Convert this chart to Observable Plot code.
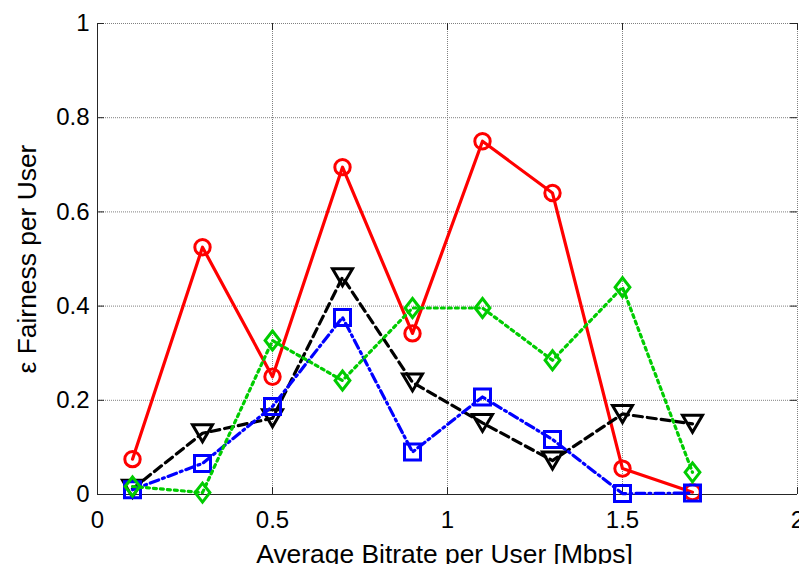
<!DOCTYPE html>
<html><head><meta charset="utf-8">
<script src="https://cdn.jsdelivr.net/npm/d3@7"></script>
<script src="https://cdn.jsdelivr.net/npm/@observablehq/plot@0.6"></script>
<style>
body{margin:0;background:#fff;}
svg{font-family:"Liberation Sans",Arial,sans-serif;}
</style>
</head><body><div id="chart"></div>
<script>
const bitrate = [0.1, 0.3, 0.5, 0.7, 0.9, 1.1, 1.3, 1.5, 1.7];
const redCircle = [0.075, 0.525, 0.25, 0.695, 0.342, 0.75, 0.64, 0.055, 0.005];
const blackTriangle = [0.012, 0.13, 0.162, 0.461, 0.238, 0.152, 0.072, 0.171, 0.15];
const blueSquare = [0.01, 0.066, 0.187, 0.376, 0.09, 0.207, 0.117, 0.002, 0.003];
const greenDiamond = [0.017, 0.004, 0.327, 0.242, 0.396, 0.396, 0.285, 0.44, 0.047];
const xTicks = [0, 0.5, 1, 1.5, 2];
const xTickLabels = ["0", "0.5", "1", "1.5", "2"];
const yTicks = [0, 0.2, 0.4, 0.6, 0.8, 1];
const yTickLabels = ["0", "0.2", "0.4", "0.6", "0.8", "1"];
const xLabel = "Average Bitrate per User [Mbps]";
const yLabel = "ε Fairness per User";

const rows = vals => bitrate.map((x, i) => ({x, y: vals[i]}));

const triDown = {draw(ctx) { ctx.moveTo(-10, -8.5); ctx.lineTo(10, -8.5); ctx.lineTo(0, 8.5); ctx.closePath(); }};
const diamond = {draw(ctx) { ctx.moveTo(0, -9.5); ctx.lineTo(7.4, 0); ctx.lineTo(0, 9.5); ctx.lineTo(-7.4, 0); ctx.closePath(); }};
const square = {draw(ctx) { ctx.rect(-8, -8, 16, 16); }};

const W = 799, H = 564, ML = 97, MR = 2, MT = 23, MB = 70;
const FW = W - ML - MR, FH = H - MT - MB;
const axisColor = "#262626";
const gridStyle = {stroke: "#808080", strokeOpacity: 1, strokeDasharray: "1,1"};

function series(vals, color, dash, symbol, r) {
  return [
    Plot.line(rows(vals), {x: "x", y: "y", stroke: color, strokeWidth: 3.2, strokeDasharray: dash}),
    Plot.dot(rows(vals), {x: "x", y: "y", r, symbol, stroke: color, strokeWidth: 3, fill: "none"})
  ];
}

const chart = Plot.plot({
  width: W, height: H,
  marginLeft: ML, marginRight: MR, marginTop: MT, marginBottom: MB,
  x: {domain: [0, 2], axis: null},
  y: {domain: [0, 1], axis: null},
  style: {background: "white", fontFamily: "Liberation Sans, Arial, sans-serif", overflow: "visible"},
  marks: [
    Plot.ruleX(xTicks, {x: d => d, ...gridStyle}),
    Plot.ruleY(yTicks, {y: d => d, ...gridStyle}),
    Plot.ruleX([0], {x: d => d, stroke: axisColor}),
    Plot.ruleY([0], {y: d => d, stroke: axisColor}),
    Plot.tickY(yTicks, {y: d => d, insetRight: FW - 7, stroke: axisColor}),
    Plot.tickY(yTicks, {y: d => d, insetLeft: FW - 7, stroke: axisColor}),
    Plot.tickX(xTicks, {x: d => d, insetTop: FH - 7, stroke: axisColor}),
    Plot.tickX(xTicks, {x: d => d, insetBottom: FH - 7, stroke: axisColor}),
    ...series(redCircle, "#ff0000", null, "circle", 7.7),
    ...series(blackTriangle, "#000000", "9,5", triDown, 8),
    ...series(blueSquare, "#0000ff", "9,4,2,4", square, 8),
    ...series(greenDiamond, "#00cc00", "3,4", diamond, 8),
    Plot.text(xTicks, {x: d => d, text: (d, i) => xTickLabels[i], frameAnchor: "bottom", lineAnchor: "bottom", dy: 33, fontSize: 24, fill: "#000"}),
    Plot.text(yTicks, {y: d => d, text: (d, i) => yTickLabels[i], frameAnchor: "left", textAnchor: "end", lineAnchor: "middle", dx: -8, fontSize: 24, fill: "#000"}),
    Plot.text([xLabel], {text: d => d, frameAnchor: "bottom", lineAnchor: "bottom", dy: 68, dx: -3, fontSize: 26.4, fill: "#000"}),
    Plot.axisY({ticks: [], tickSize: 0, label: yLabel, labelAnchor: "center", labelArrow: "none", labelOffset: 80, fontSize: 26.4, color: "#000"})
  ]
});
document.getElementById("chart").append(chart);
</script>
</body></html>
